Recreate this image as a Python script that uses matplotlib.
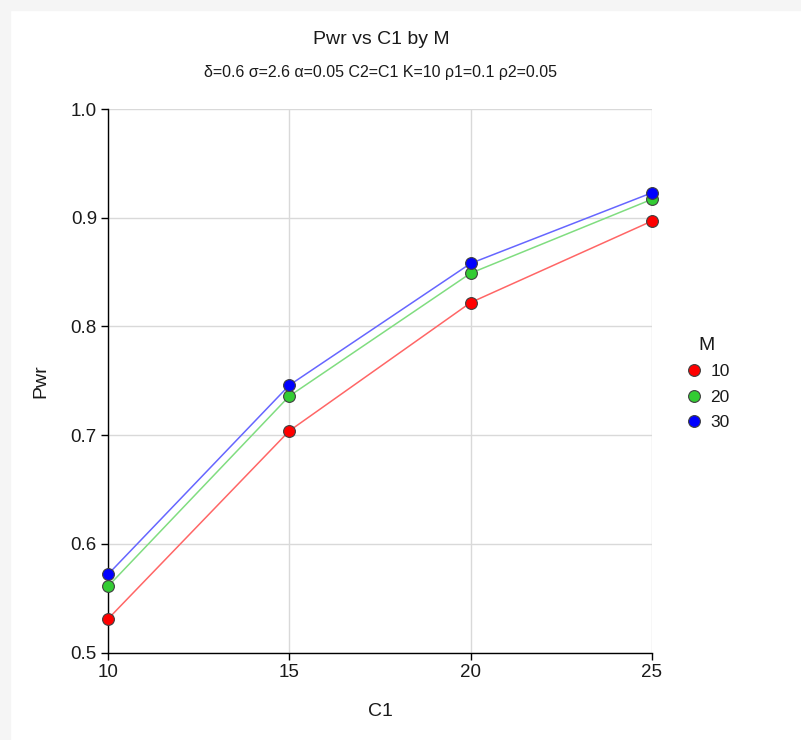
import matplotlib
matplotlib.use("Agg")
import matplotlib.pyplot as plt
from matplotlib.lines import Line2D
from matplotlib.patches import Rectangle

plt.rcParams['font.family'] = ['Liberation Sans', 'DejaVu Sans']

c1 = [10, 15, 20, 25]
m_levels = ['10', '20', '30']
pwr_m10 = [0.531, 0.704, 0.822, 0.897]
pwr_m20 = [0.561, 0.736, 0.849, 0.917]
pwr_m30 = [0.572, 0.746, 0.858, 0.923]
series = [pwr_m10, pwr_m20, pwr_m30]
fill_colors = ['#ff0000', '#33cc33', '#0000ff']
line_colors = ['#ff6666', '#80dd80', '#6666ff']
txt = '#1a1a1a'

fig = plt.figure(figsize=(8.01, 7.40), dpi=100)
fig.patches.append(Rectangle((0, 0), 10/801, 1, transform=fig.transFigure, color='#f5f5f5', zorder=0))
fig.patches.append(Rectangle((0, 1 - 10/740), 1, 10/740, transform=fig.transFigure, color='#f5f5f5', zorder=0))

ax = fig.add_axes([108/801, (740-652.7)/740, (652-108)/801, (652.7-109)/740])
ax.set_xlim(10, 25)
ax.set_ylim(0.5, 1.0)
ax.set_xticks(c1)
ax.set_yticks([0.5, 0.6, 0.7, 0.8, 0.9, 1.0])
ax.set_yticklabels(['0.5', '0.6', '0.7', '0.8', '0.9', '1.0'])
ax.grid(True, color='#d9d9d9', linewidth=1)
ax.set_axisbelow(True)
for s in ['top', 'right']:
    ax.spines[s].set_visible(False)
for s in ['left', 'bottom']:
    ax.spines[s].set_color('black')
    ax.spines[s].set_linewidth(1)
ax.tick_params(direction='out', length=5, width=1, labelsize=13.5, colors='black', labelcolor=txt, pad=3)

handles = []
for vals, fc, lc, lab in zip(series, fill_colors, line_colors, m_levels):
    ax.plot(c1, vals, color=lc, linewidth=1.1, zorder=3, clip_on=False)
    ax.plot(c1, vals, linestyle='none', marker='o', markersize=8.5, markerfacecolor=fc,
            markeredgecolor='#404040', markeredgewidth=0.8, zorder=4, clip_on=False)
    handles.append(Line2D([], [], linestyle='none', marker='o', markersize=8.5,
                          markerfacecolor=fc, markeredgecolor='#404040', markeredgewidth=0.8, label=lab))

fig.text(381/801, 1 - 40/740, 'Pwr vs C1 by M', ha='center', va='center', fontsize=14, color=txt)
fig.text(380/801, 1 - 73/740, 'δ=0.6 σ=2.6 α=0.05 C2=C1 K=10 ρ1=0.1 ρ2=0.05', ha='center', va='center', fontsize=11.5, color=txt)
ax.set_xlabel('C1', fontsize=14, labelpad=16, color=txt)
ax.set_ylabel('Pwr', fontsize=14, labelpad=15, color=txt)

leg = ax.legend(handles=handles, title='M', loc='upper left', bbox_to_anchor=(668/801, 1 - 321/740),
                bbox_transform=fig.transFigure, frameon=False, fontsize=12.5, title_fontsize=14,
                handletextpad=0.35, labelspacing=0.6, handlelength=1.2)
for t in leg.get_texts():
    t.set_color(txt)
leg.get_title().set_color(txt)

fig.savefig('out.png', dpi=100)
